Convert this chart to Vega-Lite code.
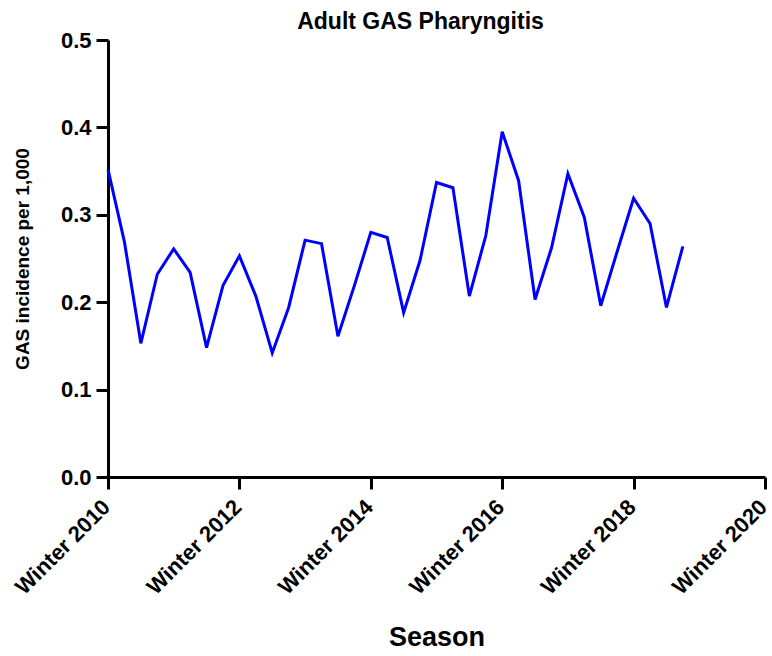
{
  "$schema": "https://vega.github.io/schema/vega-lite/v6.json",
  "autosize": {"type": "none"},
  "padding": {"left": 108, "top": 40, "right": 7, "bottom": 179},
  "width": 657,
  "height": 437,
  "title": {"text": "Adult GAS Pharyngitis", "font": "Liberation Sans", "fontSize": 23, "fontWeight": "bold", "color": "black", "dx": -16, "offset": -5},
  "config": {"view": {"stroke": null}},
  "data": {"values": [
    {"t": 2010.00, "v": 0.352}, {"t": 2010.25, "v": 0.269}, {"t": 2010.50, "v": 0.153}, {"t": 2010.75, "v": 0.232},
    {"t": 2011.00, "v": 0.261}, {"t": 2011.25, "v": 0.234}, {"t": 2011.50, "v": 0.148}, {"t": 2011.75, "v": 0.219},
    {"t": 2012.00, "v": 0.253}, {"t": 2012.25, "v": 0.207}, {"t": 2012.50, "v": 0.142}, {"t": 2012.75, "v": 0.194},
    {"t": 2013.00, "v": 0.271}, {"t": 2013.25, "v": 0.267}, {"t": 2013.50, "v": 0.161}, {"t": 2013.75, "v": 0.219},
    {"t": 2014.00, "v": 0.280}, {"t": 2014.25, "v": 0.274}, {"t": 2014.50, "v": 0.188}, {"t": 2014.75, "v": 0.248},
    {"t": 2015.00, "v": 0.337}, {"t": 2015.25, "v": 0.331}, {"t": 2015.50, "v": 0.207}, {"t": 2015.75, "v": 0.276},
    {"t": 2016.00, "v": 0.395}, {"t": 2016.25, "v": 0.339}, {"t": 2016.50, "v": 0.203}, {"t": 2016.75, "v": 0.262},
    {"t": 2017.00, "v": 0.347}, {"t": 2017.25, "v": 0.297}, {"t": 2017.50, "v": 0.196}, {"t": 2017.75, "v": 0.258},
    {"t": 2018.00, "v": 0.319}, {"t": 2018.25, "v": 0.290}, {"t": 2018.50, "v": 0.194}, {"t": 2018.75, "v": 0.264}
  ]},
  "mark": {"type": "line", "color": "#0000FF", "strokeWidth": 3, "clip": false},
  "encoding": {
    "x": {
      "field": "t", "type": "quantitative",
      "scale": {"domain": [2010, 2020], "nice": false, "zero": false},
      "axis": {
        "values": [2010, 2012, 2014, 2016, 2018, 2020],
        "labelExpr": "'Winter ' + datum.value",
        "labelAngle": -45,
        "labelFont": "Liberation Sans", "labelFontSize": 22, "labelFontWeight": "bold", "labelColor": "black",
        "labelPadding": 7, "labelOffset": -9, "labelOverlap": false, "labelBound": false, "labelFlush": false,
        "grid": false, "domainColor": "black", "domainWidth": 3, "tickColor": "black", "tickWidth": 3, "tickSize": 12,
        "title": "Season", "titleFont": "Liberation Sans", "titleFontSize": 27, "titleFontWeight": "bold", "titleColor": "black", "titlePadding": 26
      }
    },
    "y": {
      "field": "v", "type": "quantitative",
      "scale": {"domain": [0, 0.5], "nice": false},
      "axis": {
        "values": [0, 0.1, 0.2, 0.3, 0.4, 0.5],
        "format": ".1f",
        "labelFont": "Liberation Sans", "labelFontSize": 22, "labelFontWeight": "bold", "labelColor": "black",
        "labelPadding": 5,
        "grid": false, "domainColor": "black", "domainWidth": 3, "tickColor": "black", "tickWidth": 3, "tickSize": 12,
        "title": "GAS incidence per 1,000", "titleFont": "Liberation Sans", "titleFontSize": 19, "titleFontWeight": "bold", "titleColor": "black", "titlePadding": 28
      }
    }
  }
}
